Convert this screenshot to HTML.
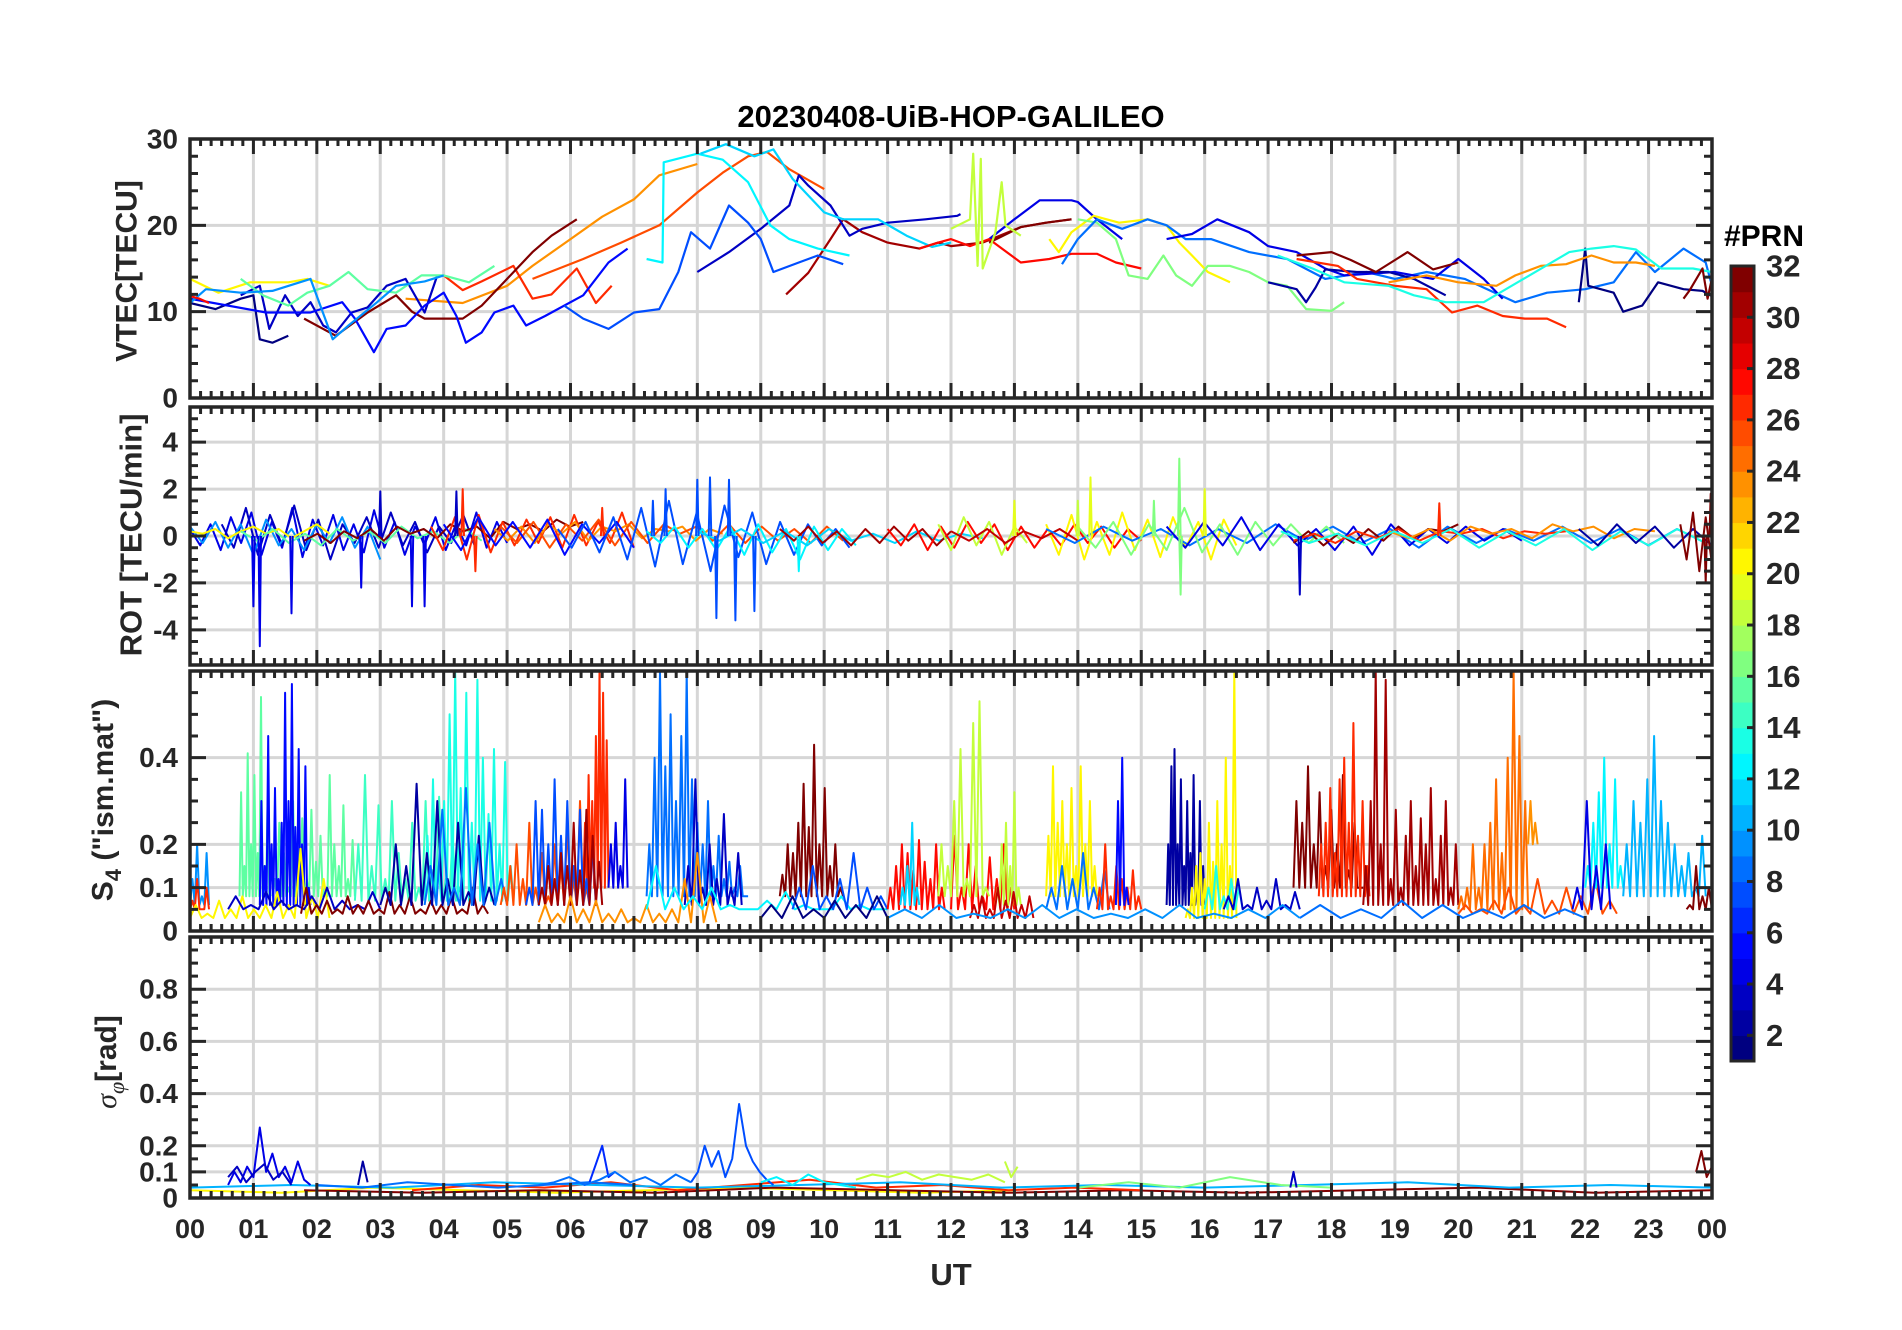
<!DOCTYPE html>
<html><head><meta charset="utf-8"><style>
html,body{margin:0;padding:0;background:#fff;}
svg{display:block;font-family:"Liberation Sans",Arial,sans-serif;font-weight:bold;}
</style></head><body>
<svg id="chart" width="1902" height="1330" viewBox="0 0 1902 1330" xmlns="http://www.w3.org/2000/svg">
<rect x="0" y="0" width="1902" height="1330" fill="#fff"/>
<text x="951" y="127" text-anchor="middle" font-size="31" fill="#000">20230408-UiB-HOP-GALILEO</text>
<g id="grid"></g>
<g id="data"></g>
<g id="axes"></g>
<text transform="translate(127,271) rotate(-90)" text-anchor="middle" dominant-baseline="central" font-size="30" fill="#262626">VTEC[TECU]</text>
<text transform="translate(131,535) rotate(-90)" text-anchor="middle" dominant-baseline="central" font-size="31" fill="#262626">ROT [TECU/min]</text>
<text transform="translate(103,800) rotate(-90)" text-anchor="middle" dominant-baseline="central" font-size="30" fill="#262626">S<tspan font-size="22" dy="10">4</tspan><tspan dy="-10"> ("ism.mat")</tspan></text>
<text transform="translate(106,1062) rotate(-90)" text-anchor="middle" dominant-baseline="central" font-size="30" fill="#262626"><tspan font-family="Liberation Serif, serif" font-style="italic" font-weight="normal">σ</tspan><tspan font-family="Liberation Serif, serif" font-style="italic" font-weight="normal" font-size="22" dy="10">φ</tspan><tspan dy="-10">[rad]</tspan></text>
<text x="951" y="1285" text-anchor="middle" font-size="31" fill="#262626">UT</text>
<text x="1764" y="246" text-anchor="middle" font-size="30" fill="#000">#PRN</text>
<g id="cbar"></g>
</svg>
<script>
// ---------------- data ----------------
const hourTickLabels = ["00","01","02","03","04","05","06","07","08","09","10","11","12","13","14","15","16","17","18","19","20","21","22","23","00"];
const vtecTicks = [0,10,20,30];
const rotTicks = [-4,-2,0,2,4];
const s4Ticks = [0,0.1,0.2,0.4];
const sigTicks = [0,0.1,0.2,0.4,0.6,0.8];
const cbarTicks = [2,4,6,8,10,12,14,16,18,20,22,24,26,28,30,32];

const vtecPrns = [23,25,26,31,30,3,4,1,3,5,7,12,11,20,15,9,27,27,31,18,20,16,8,4,2,1,31,26,23,13,31];
const vtecTimes = [
 [3.4,4.3,5.0,5.4,6.0,6.5,7.0,7.4,8.0],
 [5.4,6.2,6.8,7.4,8.0,8.4,8.8,9.1,9.45,10.0],
 [4.0,4.3,4.6,5.1,5.4,5.7,6.1,6.4,6.65],
 [1.8,2.3,2.8,3.25,3.5,3.7,4.3,4.6,5.0,5.4,5.7,6.1],
 [9.4,9.75,10.1,10.3,10.6,11.0,11.5,11.8,12.0,12.5,13.1,13.5,13.9],
 [8.0,8.5,9.0,9.45,9.6,9.75,10.1,10.4,10.6,11.0,11.6,12.1,12.15],
 [12.6,13.0,13.4,13.9,14.0,14.3,14.7],
 [0.0,0.4,0.8,1.0,1.1,1.3,1.55],
 [0.8,1.1,1.25,1.5,1.7,1.9,2.1,2.3,2.55,2.8,3.1,3.4,3.7,3.9],
 [0.0,1.2,1.9,2.4,2.6,2.9,3.1,3.4,3.7,4.0,4.2,4.35,4.6,4.8,5.1,5.3,5.6,6.2,6.6,6.9],
 [5.9,6.2,6.6,7.0,7.4,7.7,7.9,8.2,8.5,8.8,9.0,9.2,9.6,9.9,10.3],
 [7.2,7.45,7.47,8.0,8.4,8.8,9.15,9.45,9.9,10.4],
 [8.05,8.45,8.9,9.2,9.5,10.0,10.3,10.85,11.3,11.7,12.0],
 [0.0,0.45,0.95,1.55,1.85,2.2],
 [0.8,1.15,1.55,1.85,2.2,2.5,2.8,3.25,3.65,4.0,4.4,4.8],
 [0.0,0.25,0.8,1.3,1.9,2.25,2.5,2.95,3.25,3.7,4.0],
 [0.0,0.15,0.3],
 [11.5,11.8,12.0,12.3,12.6,13.1,13.55,13.9,14.3,14.6,15.0],
 [12.6,13.1,13.5,13.9],
 [12.0,12.3,12.35,12.42,12.47,12.5,12.7,12.8,12.86,13.1],
 [13.55,13.7,13.9,14.25,14.65,15.1,15.4,15.6,15.8,16.05,16.4],
 [14.0,14.3,14.6,14.8,15.1,15.35,15.55,15.8,16.05,16.4,16.7,17.0,17.3,17.6,18.0,18.2],
 [13.75,14.0,14.3,14.7,15.1,15.4,15.7,16.1,16.7,17.3,17.9,18.55,19.0,19.5,20.1,20.9,21.4,22.0,22.45,22.8,23.1,23.55,23.9,24.0],
 [15.4,15.8,16.2,16.7,17.0,17.45,17.9,18.2,19.0,19.6,20.0,20.4,20.7],
 [17.0,17.45,17.6,17.75,17.9,18.4,18.9,19.3,19.8],
 [21.9,22.0,22.05,22.45,22.6,22.9,23.15,23.55,23.85,24.0],
 [17.45,18.0,18.3,18.7,19.2,19.6,20.0],
 [17.45,18.1,18.4,19.0,19.5,19.9,20.3,20.7,21.05,21.4,21.7],
 [18.9,19.5,20.0,20.6,20.9,21.3,21.7,22.1,22.45,22.8,23.1],
 [17.15,17.7,18.2,18.9,19.3,19.8,20.4,21.75,22.1,22.45,22.8,23.2,23.7,24.0],
 [23.55,23.65,23.85,23.93,24.0]
];
const vtecValues = [
 [11.5,11.0,13.0,15.3,18.4,21.0,23.0,25.8,27.1],
 [13.8,16.1,18.0,20.0,23.8,26.1,28.0,28.5,26.5,24.2],
 [14.2,12.5,13.5,15.3,11.5,12.0,15.0,11.0,13.0],
 [9.2,7.2,9.9,11.9,10.0,9.2,9.2,10.7,13.8,16.9,18.8,20.7],
 [12.0,14.5,18.4,20.7,19.2,18.0,17.3,18.0,17.6,18.0,19.8,20.3,20.7],
 [14.6,16.9,19.6,22.3,25.8,24.6,22.3,18.8,19.6,20.3,20.7,21.1,21.3],
 [18.4,20.7,22.9,22.9,22.7,20.7,18.4],
 [11.0,10.3,11.5,11.9,6.8,6.4,7.2],
 [11.9,13.0,8.0,11.9,9.5,11.1,8.4,7.6,9.9,10.5,13.0,13.8,9.9,14.2],
 [11.5,9.9,9.9,11.1,9.2,5.3,8.0,8.4,10.7,12.2,9.5,6.4,7.6,9.9,10.7,8.4,9.5,11.9,15.7,17.3],
 [10.7,9.2,8.0,9.9,10.3,14.6,19.2,17.3,22.3,20.3,18.4,14.6,15.7,16.5,15.5],
 [16.1,15.7,27.3,28.3,27.6,25.0,20.0,18.4,17.3,16.5],
 [28.3,29.4,28.0,28.8,25.4,21.5,20.7,20.7,18.8,17.5,18.0],
 [13.8,12.2,13.4,13.4,13.8,13.0],
 [13.8,11.9,10.7,12.2,13.0,14.6,12.6,12.2,14.2,14.2,13.4,15.3],
 [11.0,12.6,12.2,12.4,13.8,6.8,8.4,11.1,13.0,13.5,14.2],
 [11.8,11.5,11.0],
 [17.3,18.0,18.4,17.6,18.4,15.7,16.1,16.7,16.7,15.7,15.0],
 [18.0,19.8,20.3,20.7],
 [19.6,20.7,28.3,15.3,27.7,15.0,19.2,25.0,20.0,18.8],
 [18.4,16.9,19.2,21.1,20.3,20.7,20.0,18.0,16.5,14.6,13.4],
 [20.7,20.3,18.4,14.2,13.8,16.5,14.2,13.0,15.3,15.3,14.6,13.4,13.0,10.3,10.1,11.1],
 [15.5,18.4,20.7,19.6,20.7,20.0,18.4,18.4,16.9,16.1,13.8,14.6,13.8,14.6,13.8,11.1,12.2,12.6,13.4,16.9,14.6,17.3,15.7,13.0],
 [18.4,19.0,20.7,19.2,17.6,16.9,15.0,14.2,14.6,13.8,16.1,13.8,11.5],
 [13.4,12.6,11.1,12.8,14.9,14.6,14.6,13.8,11.9],
 [11.1,17.3,13.0,12.2,10.0,10.7,13.4,12.6,12.4,11.8],
 [16.5,16.9,16.0,14.6,16.9,14.9,15.7],
 [16.1,15.3,13.8,13.0,12.6,9.9,10.7,9.5,9.2,9.2,8.2],
 [13.4,14.2,13.4,13.0,14.2,15.3,15.5,16.5,15.7,15.7,15.3],
 [16.5,15.0,13.4,13.0,11.9,11.1,11.1,16.9,17.3,17.6,17.2,15.0,15.0,14.6],
 [11.5,12.5,15.0,11.5,13.9]
];

const rotPrns = [4,3,9,20,15,31,26,23,25,5,7,12,11,30,27,18,20,29,8,16,4,31,26,23,13,2,31];
const rotStart = [0,0.5,0,0,0.8,1.8,3.8,4.8,4.9,4.0,5.8,7.2,8.0,9.3,11.0,11.8,13.5,12.0,13.5,14.0,15.4,17.4,17.4,18.9,17.2,21.9,23.5];
const rotEnd = [5,4.5,3,2.2,4.6,6.2,7.0,8.4,10.3,7.0,10.4,10.5,12.5,12.0,15.0,13.2,16.5,14.0,23.9,18.2,21.0,20.0,21.7,23.1,23.9,24.0,24.0];
const rotVals = [
 [0.3,-0.4,0.5,-0.6,0.8,-0.3,1.0,-0.8,0.6,-0.5,1.2,-0.9,0.7,-0.4,0.9,-0.6,0.5,-0.7,1.1,-0.5,0.6,-0.8,0.4,-0.3,0.8,-0.6,0.5,-0.4,1.0,-0.5,0.6,-0.3],
 [0.5,-0.5,1.2,-0.8,0.9,-0.4,1.3,-0.6,0.7,-1.0,0.5,-0.3,0.8,-0.5,1.0,-0.4,0.6,-0.7,0.4,-0.3,0.9,-0.5],
 [0.4,-0.3,0.6,-0.5,0.5,-0.8,0.7,-0.4,0.3,-0.6,0.5,-0.3,0.8,-0.5,0.4,-1.0],
 [0.2,0.1,0.3,-0.1,0.2,0.4,0.1,0.3,-0.1,0.2,0.5,0.1],
 [0.2,-0.2,0.3,-0.3,0.1,-0.4,0.3,-0.2,0.2,-0.3,0.4,-0.1,0.2,-0.3,0.3,-0.2],
 [-0.2,0.1,-0.3,0.2,-0.1,0.3,-0.2,0.4,0.1,0.3,-0.1,0.5,0.2,0.4,-0.1,0.6,0.3,0.5,0.2,0.7,0.4,0.6],
 [0.4,-0.6,0.8,-1.0,0.9,-0.7,0.6,-0.4,0.7,-0.3,0.8,-0.5,0.9,-0.4,0.6,-0.3,1.0,-0.5],
 [0.3,-0.2,0.4,-0.3,0.5,0.1,0.6,-0.2,0.4,0.2,0.5,-0.1,0.3,0.2,0.4,-0.2,0.3,0.1],
 [0.4,-0.3,0.6,-0.5,0.5,-0.2,0.7,-0.4,0.6,-0.3,0.5,0.1,0.4,-0.2,0.5,-0.3,0.4,-0.2,0.3,-0.3,0.4,-0.2],
 [0.5,-0.6,0.8,-0.4,0.6,-0.5,0.7,-0.8,0.5,-0.3,0.6,-0.5],
 [0.3,-0.5,0.6,-0.7,0.8,-1.0,1.2,-1.3,1.5,-1.2,1.0,-1.5,1.3,-0.9,1.0,-1.2,0.6,-0.8,0.5,-0.4,0.3,-0.5],
 [0.2,-0.3,0.4,-0.5,0.3,-0.6,0.4,-0.8,0.5,-0.7,0.3,-1.0,0.4,-0.6,0.3,-0.4],
 [0.2,-0.2,0.3,-0.3,0.2,-0.4,0.3,-0.2,0.1,-0.3,0.2,-0.2,0.1,-0.1],
 [0.3,-0.2,0.4,-0.3,0.2,-0.4,0.3,-0.3,0.4,-0.2,0.3,-0.4,0.2],
 [0.3,-0.4,0.5,-0.6,0.4,-0.5,0.6,-0.3,0.5,-0.6,0.4,-0.5,0.3,-0.4,0.5,-0.3,0.4,-0.5,0.3,-0.2],
 [0.5,-0.6,0.8,-0.4,0.6,-0.8,0.4,-0.3],
 [0.5,-0.8,0.9,-1.0,0.6,-0.8,1.0,-0.6,0.7,-0.9,0.8,-0.5,0.6,-1.0,0.7,-0.4],
 [0.2,-0.2,0.3,-0.3,0.2,-0.1,0.3,-0.2],
 [0.3,-0.3,0.4,-0.2,0.3,-0.4,0.3,-0.3,0.5,-0.2,0.4,-0.3,0.3,-0.5,0.4,-0.3,0.3,-0.2,0.4,-0.3,0.3,-0.4,0.3,-0.3],
 [0.4,-0.5,0.6,-0.8,0.5,-0.6,1.2,-0.7,0.5,-0.8,0.6,-0.4,0.5,-0.3,0.4,-0.3],
 [0.4,-0.5,0.6,-0.4,0.8,-0.6,0.5,-0.4,0.3,-0.6,0.4,-0.8,0.5,-0.4,0.3,-0.3,0.4,-0.2,0.3,-0.2],
 [-0.3,0.2,-0.4,0.1,-0.3,0.3,-0.2,0.4,-0.1,0.3,0.2,0.5],
 [-0.2,0.1,-0.3,0.2,-0.1,0.3,-0.2,0.2,0.1,0.3,-0.1,0.2,0.1,0.2],
 [0.2,-0.1,0.3,-0.2,0.4,0.1,0.3,-0.1,0.5,0.2,0.4,-0.1,0.3,0.2],
 [0.2,-0.3,0.1,-0.4,0.2,-0.3,0.3,-0.5,0.2,-0.4,0.3,-0.6,0.2,-0.4,0.3,-0.3],
 [0.3,-0.4,0.5,-0.3,0.4,-0.5,0.3,-0.4],
 [0.5,-1.0,1.0,-1.5,0.8,-1.2]
];
const rotSpikePrns = [4,4,4,4,4,4,3,26,26,3,7,7,7,7,7,7,7,7,16,16,16,19,19,19,3,31,31,26,26,12,18];
const rotSpikeHours = [1.1,1.0,1.6,2.7,3.5,3.7,3.0,4.5,4.3,4.2,7.3,7.5,8.0,8.2,8.5,8.6,8.3,8.9,15.6,15.62,15.2,14.2,16.0,13.0,17.5,23.9,23.98,6.5,19.7,9.6,14.0];
const rotSpikeVals = [-4.7,-3.0,-3.3,-2.2,-3.0,-3.0,1.9,-1.5,2.0,1.9,1.5,2.0,2.4,2.5,2.4,-3.6,-3.5,-3.2,3.3,-2.5,1.5,2.5,2.0,1.5,-2.5,-2.0,1.8,1.2,1.4,-1.5,1.5];

const s4Prns = [15,15,14,13,5,9,26,20,3,31,2,8,25,26,4,7,8,3,30,31,23,12,7,27,27,18,18,11,29,20,8,26,5,2,20,13,3,31,26,30,24,23,25,12,10,8,4,31,1,9];
const s4Start = [0.78,1.3,2.6,3.7,1.1,0.0,0.0,0.0,0.6,1.75,3.0,3.7,4.9,6.2,6.6,5.3,7.2,7.8,5.5,9.3,5.5,7.2,9.5,11.0,12.0,11.8,12.7,11.2,12.3,13.5,13.5,14.3,14.6,15.4,15.7,16.0,16.3,17.4,17.8,18.5,20.0,21.1,20.0,22.0,22.6,17.5,21.8,23.6,9.0,11.0];
const s4End = [1.25,2.6,4.3,5.1,1.9,0.3,0.3,2.2,3.0,4.7,4.8,5.0,6.3,6.6,6.9,6.4,8.8,8.7,6.5,10.3,8.3,11.0,11.0,11.9,13.0,12.6,13.1,11.5,13.3,14.3,14.5,15.0,14.8,16.0,16.5,16.6,17.5,18.5,18.6,20.0,21.1,21.25,22.5,22.6,23.9,22.0,22.4,24.0,11.0,17.5];
const s4Base = [0.08,0.08,0.07,0.07,0.06,0.06,0.05,0.03,0.05,0.04,0.06,0.06,0.06,0.1,0.1,0.06,0.08,0.06,0.06,0.08,0.02,0.05,0.05,0.05,0.05,0.08,0.06,0.06,0.03,0.08,0.05,0.05,0.06,0.06,0.03,0.05,0.05,0.1,0.08,0.06,0.05,0.2,0.04,0.1,0.08,0.03,0.05,0.05,0.03,0.03];
const s4Peaks = [
 [0.32,0.15,0.41,0.2,0.36,0.18,0.54,0.15,0.3],
 [0.12,0.25,0.18,0.1,0.3,0.2,0.26,0.12,0.28,0.16,0.22,0.1,0.36,0.2,0.15,0.29,0.12,0.21],
 [0.2,0.36,0.15,0.29,0.12,0.3,0.18,0.12,0.25,0.1,0.3,0.14,0.31,0.12,0.22,0.1],
 [0.22,0.35,0.15,0.3,0.5,0.6,0.33,0.55,0.25,0.58,0.4,0.27,0.42,0.2,0.39,0.15],
 [0.3,0.15,0.45,0.2,0.33,0.12,0.25,0.55,0.3,0.57,0.24,0.42,0.2,0.38,0.1],
 [0.12,0.2,0.08,0.18],
 [0.07,0.12,0.05,0.1],
 [0.06,0.04,0.07,0.05,0.08,0.05,0.06,0.09,0.06,0.19,0.08,0.12],
 [0.08,0.06,0.09,0.07,0.06,0.08,0.1,0.07,0.06,0.09],
 [0.1,0.06,0.07,0.05,0.08,0.06,0.07,0.05,0.09,0.06,0.08,0.05,0.07,0.06,0.08,0.05,0.1,0.06],
 [0.1,0.2,0.15,0.34,0.18,0.3,0.12,0.25,0.09,0.22,0.1],
 [0.15,0.28,0.1,0.33,0.2,0.25,0.12],
 [0.1,0.15,0.2,0.12,0.25,0.1,0.18,0.08,0.2,0.15,0.25,0.12,0.3,0.1],
 [0.25,0.36,0.3,0.45,0.6,0.55,0.44],
 [0.2,0.25,0.15,0.35],
 [0.1,0.3,0.28,0.2,0.35,0.22,0.3,0.15,0.28,0.12,0.2],
 [0.2,0.4,0.6,0.38,0.5,0.3,0.45,0.6,0.35,0.25,0.2,0.3,0.15,0.22,0.12,0.16,0.1,0.15,0.08],
 [0.15,0.35,0.1,0.2,0.12,0.27,0.1,0.18],
 [0.1,0.15,0.12,0.18,0.15,0.25,0.14,0.28,0.22,0.16],
 [0.13,0.2,0.18,0.25,0.34,0.24,0.43,0.2,0.33,0.15,0.2,0.1],
 [0.06,0.04,0.08,0.05,0.07,0.04,0.05,0.03,0.06,0.04,0.05,0.12,0.18,0.08],
 [0.15,0.1,0.08,0.1,0.06,0.05,0.07,0.09,0.06,0.05,0.08,0.06,0.05],
 [0.1,0.15,0.08,0.12,0.18,0.1,0.08],
 [0.1,0.15,0.2,0.18,0.14,0.21,0.16,0.12,0.2,0.1],
 [0.22,0.1,0.2,0.15,0.08,0.17,0.12,0.2,0.1],
 [0.2,0.15,0.3,0.42,0.12,0.48,0.53,0.1],
 [0.1,0.2,0.25,0.15,0.32,0.1],
 [0.1,0.15,0.25,0.1],
 [0.06,0.08,0.05,0.1,0.07,0.09,0.06,0.08],
 [0.22,0.38,0.25,0.3,0.2,0.33,0.15,0.38,0.2,0.3,0.15],
 [0.1,0.15,0.12,0.18,0.1,0.14],
 [0.1,0.2,0.08,0.15,0.12,0.1,0.14,0.08],
 [0.3,0.4,0.1],
 [0.2,0.38,0.42,0.2,0.35,0.15,0.3,0.18,0.36,0.1,0.3,0.15],
 [0.05,0.1,0.15,0.18,0.12,0.25,0.16,0.3,0.2,0.4,0.15,0.6],
 [0.1,0.15,0.08,0.12,0.1],
 [0.08,0.12,0.06,0.1,0.07,0.12,0.06,0.09],
 [0.3,0.25,0.38,0.2,0.32,0.15,0.28,0.2,0.36,0.14,0.25,0.1],
 [0.2,0.25,0.33,0.18,0.35,0.4,0.25,0.48,0.22,0.3,0.15],
 [0.15,0.3,0.6,0.2,0.58,0.12,0.28,0.1,0.22,0.3,0.15,0.26,0.2,0.33,0.12,0.22,0.3,0.1,0.2],
 [0.08,0.1,0.2,0.1,0.2,0.25,0.35,0.18,0.4,0.6,0.45,0.3],
 [0.3,0.25],
 [0.06,0.05,0.07,0.1,0.06,0.12,0.07,0.1,0.08,0.12,0.07],
 [0.15,0.25,0.32,0.4,0.2,0.35,0.15],
 [0.2,0.3,0.25,0.35,0.45,0.3,0.25,0.2,0.15,0.18,0.1,0.22],
 [0.06,0.05,0.07,0.06,0.05,0.06,0.05],
 [0.1,0.3,0.15,0.2],
 [0.06,0.15,0.08,0.1],
 [0.06,0.08,0.05,0.07,0.06,0.08],
 [0.05,0.06,0.04,0.05,0.06,0.05,0.04,0.05,0.06,0.04,0.05,0.06]
];

const sigPrns = [20,31,26,10,16,8,4,3,7,6,8,2,12,18,18,3,31];
const sigStart = [0,1.8,3.5,0,14,2,0.6,0.6,7.9,6.3,5.5,2.65,9.0,10.5,12.85,17.35,23.75];
const sigEnd = [13,24,15,24,18,7,1.9,1.6,9.2,6.7,7.9,2.8,10.5,12.85,13.05,17.45,24];
const sigVals = [
 [0.03,0.02,0.04,0.03,0.02,0.03,0.04,0.03,0.02,0.03],
 [0.03,0.02,0.03,0.02,0.04,0.03,0.02,0.03,0.02,0.03,0.04,0.02,0.03],
 [0.03,0.05,0.04,0.06,0.03,0.05,0.07,0.04,0.05,0.03,0.04,0.03],
 [0.04,0.05,0.04,0.06,0.05,0.04,0.05,0.06,0.04,0.05,0.04,0.05,0.06,0.04,0.05,0.04],
 [0.04,0.06,0.04,0.08,0.05,0.04],
 [0.05,0.04,0.06,0.05,0.04,0.05,0.06,0.05],
 [0.05,0.1,0.06,0.12,0.08,0.27,0.1,0.17,0.08,0.12,0.06,0.14,0.07,0.05],
 [0.08,0.12,0.06,0.1,0.13,0.07,0.1,0.05],
 [0.06,0.1,0.2,0.12,0.18,0.08,0.15,0.36,0.2,0.14,0.1,0.07,0.05],
 [0.06,0.13,0.2,0.08,0.1],
 [0.05,0.06,0.08,0.05,0.07,0.1,0.06,0.08,0.05,0.09,0.06],
 [0.05,0.14,0.06],
 [0.06,0.08,0.05,0.09,0.06,0.05,0.04],
 [0.07,0.09,0.08,0.1,0.07,0.09,0.08,0.07,0.09,0.06],
 [0.14,0.08,0.12],
 [0.04,0.1,0.04],
 [0.1,0.18,0.08,0.12]
];

// ---------------- layout ----------------
const X0 = 190, X1 = 1712;
const panels = {
  vtec: {top:139, bot:398, min:0, max:30, ticks:vtecTicks, minor:2, fmt:v=>String(v)},
  rot:  {top:407, bot:665, min:-5.5, max:5.5, ticks:rotTicks, minor:0.5, fmt:v=>String(v)},
  s4:   {top:671, bot:931, min:0, max:0.6, ticks:s4Ticks, minor:0.05, fmt:v=>v===0?"0":String(v)},
  sig:  {top:937, bot:1198, min:0, max:1, ticks:sigTicks, minor:0.05, fmt:v=>v===0?"0":String(v)}
};
const NS = "http://www.w3.org/2000/svg";
function xScale(h){ return X0 + h*(X1-X0)/24; }
function yScale(p, v){ return p.bot - (v-p.min)/(p.max-p.min)*(p.bot-p.top); }
function jet(t){
  const c = x => Math.max(0, Math.min(1, x));
  const r = c(1.5-Math.abs(4*t-3)), g = c(1.5-Math.abs(4*t-2)), b = c(1.5-Math.abs(4*t-1));
  return "rgb("+Math.round(r*255)+","+Math.round(g*255)+","+Math.round(b*255)+")";
}
function prnColor(prn){ const bin = Math.max(0, Math.min(30, Math.floor(prn-1))); return jet(bin/30); }
function mk(tag, attrs, parent){
  const el = document.createElementNS(NS, tag);
  for (const k in attrs) el.setAttribute(k, attrs[k]);
  parent.appendChild(el);
  return el;
}
const gGrid = document.getElementById("grid");
const gData = document.getElementById("data");
const gAxes = document.getElementById("axes");
const gCbar = document.getElementById("cbar");

Object.keys(panels).forEach(key => {
  const p = panels[key];
  for (let h = 1; h < 24; h++) {
    const ln = mk("line", {x1:xScale(h), x2:xScale(h), y1:p.top, y2:p.bot, stroke:"#d6d6d6", "stroke-width":3}, gGrid);
    
    
  }
  p.ticks.forEach(v => {
    if (v === p.min) return;
    const ln = mk("line", {x1:X0, x2:X1, y1:yScale(p,v), y2:yScale(p,v), stroke:"#d6d6d6", "stroke-width":3}, gGrid);
    
    
  });
  let d = "";
  for (let m = 0; m <= 144; m++) {
    const x = xScale(m/6), L = (m%6===0) ? 15 : 7;
    d += "M"+x+" "+p.top+"v"+L+"M"+x+" "+p.bot+"v"+(-L);
  }
  const nMin = Math.round((p.max-p.min)/p.minor);
  for (let i = 0; i <= nMin; i++) {
    const v = p.min + i*p.minor;
    const major = p.ticks.some(t => Math.abs(t-v) < 1e-6);
    const y = yScale(p, v), L = major ? 16 : 8;
    d += "M"+X0+" "+y+"h"+L+"M"+X1+" "+y+"h"+(-L);
  }
  const tk = mk("path", {d:d, stroke:"#262626", "stroke-width":3, fill:"none"}, gAxes);
  
  
  const box = mk("rect", {x:X0, y:p.top, width:X1-X0, height:p.bot-p.top, fill:"none", stroke:"#262626", "stroke-width":3.5}, gAxes);
  
  
  p.ticks.forEach(v => {
    const t = mk("text", {x:178, y:yScale(p,v), "text-anchor":"end", "dominant-baseline":"central", "font-size":28, fill:"#262626"}, gAxes);
    t.textContent = p.fmt(v);
    
    
  });
});
hourTickLabels.forEach((lab, i) => {
  const t = mk("text", {x:xScale(i), y:1238, "text-anchor":"middle", "font-size":27, fill:"#262626"}, gAxes);
  t.textContent = lab;
  
  
});

Object.keys(panels).forEach(key => {
  const p = panels[key];
  const cp = mk("clipPath", {id:"clip-"+key}, document.getElementById("chart"));
  mk("rect", {x:X0, y:p.top, width:X1-X0, height:p.bot-p.top}, cp);
});
function polyline(key, pts, prn, name, w){
  const el = mk("polyline", {points:pts.map(q=>q[0].toFixed(1)+","+q[1].toFixed(1)).join(" "), fill:"none", stroke:prnColor(prn), "stroke-width":w, "stroke-linejoin":"round", "clip-path":"url(#clip-"+key+")"}, gData);
  
  
}
vtecPrns.forEach((prn, i) => {
  const pts = vtecTimes[i].map((h, j) => [xScale(h), yScale(panels.vtec, vtecValues[i][j])]);
  polyline("vtec", pts, prn, "vtec-line-prn"+prn, 2.2);
});
rotPrns.forEach((prn, i) => {
  const vals = rotVals[i], n = vals.length, dt = (rotEnd[i]-rotStart[i])/(n-1);
  const pts = vals.map((v, j) => [xScale(rotStart[i]+j*dt), yScale(panels.rot, v)]);
  polyline("rot", pts, prn, "rot-line-prn"+prn, 2);
});
rotSpikePrns.forEach((prn, i) => {
  const h = rotSpikeHours[i];
  const pts = [[xScale(h-0.02), yScale(panels.rot,0)], [xScale(h), yScale(panels.rot, rotSpikeVals[i])], [xScale(h+0.02), yScale(panels.rot,0)]];
  polyline("rot", pts, prn, "rot-spike-prn"+prn, 2);
});
s4Prns.forEach((prn, i) => {
  const pk = s4Peaks[i], n = pk.length, dt = (s4End[i]-s4Start[i])/n;
  const p = panels.s4, pts = [[xScale(s4Start[i]), yScale(p, s4Base[i])]];
  pk.forEach((v, j) => {
    pts.push([xScale(s4Start[i]+(j+0.5)*dt), yScale(p, v)]);
    pts.push([xScale(s4Start[i]+(j+1)*dt), yScale(p, s4Base[i])]);
  });
  polyline("s4", pts, prn, "s4-line-prn"+prn, 2);
});
sigPrns.forEach((prn, i) => {
  const vals = sigVals[i], n = vals.length, dt = (sigEnd[i]-sigStart[i])/(n-1);
  const pts = vals.map((v, j) => [xScale(sigStart[i]+j*dt), yScale(panels.sig, v)]);
  polyline("sig", pts, prn, "sigma-line-prn"+prn, 2);
});

const CB = {x:1731, w:23, top:266, bot:1061, min:1, max:32};
function cbY(v){ return CB.bot - (v-CB.min)/(CB.max-CB.min)*(CB.bot-CB.top); }
for (let b = 0; b < 31; b++) {
  const r = mk("rect", {x:CB.x, y:cbY(b+2), width:CB.w, height:cbY(b+1)-cbY(b+2)+0.6, fill:jet(b/30)}, gCbar);
  
  
}
const cbBox = mk("rect", {x:CB.x, y:CB.top, width:CB.w, height:CB.bot-CB.top, fill:"none", stroke:"#262626", "stroke-width":3}, gCbar);


cbarTicks.forEach(v => {
  const ln = mk("line", {x1:CB.x+CB.w-7, x2:CB.x+CB.w, y1:cbY(v), y2:cbY(v), stroke:"#262626", "stroke-width":3}, gCbar);
  
  
  const t = mk("text", {x:1766, y:cbY(v), "dominant-baseline":"central", "font-size":31, fill:"#262626"}, gCbar);
  t.textContent = String(v);
  
  
});
</script>
</body></html>
